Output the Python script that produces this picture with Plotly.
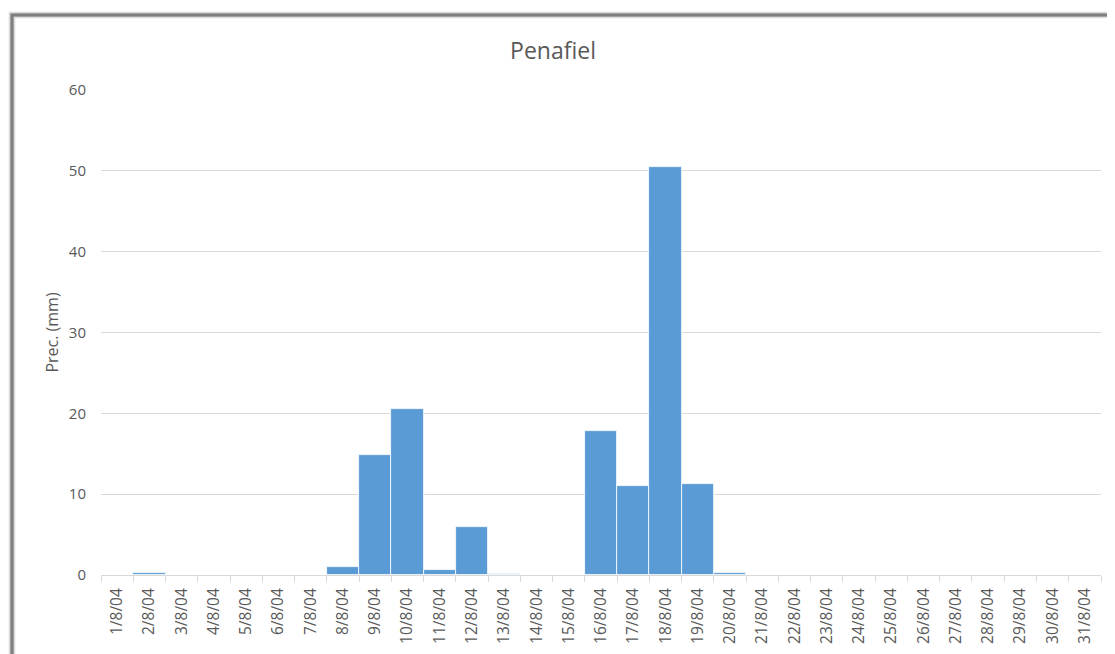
import plotly.graph_objects as go

days = [f"{d}/8/04" for d in range(1, 32)]
precip = [0, 0.25, 0, 0, 0, 0, 0, 1.0, 14.9, 20.5, 0.65, 5.95, 0.1, 0, 0,
          17.8, 11.05, 50.5, 11.2, 0.3, 0, 0, 0, 0, 0, 0, 0, 0, 0, 0, 0]
y_ticks = [0, 10, 20, 30, 40, 50, 60]

W, H = 1115, 654
OFF = 8  # page body margin
L, T = 101 - OFF, 90 - OFF
PW, PH = 1000, 485
R = W - L - PW
B = H - T - PH

def px(x):
    return (x - OFF - L) / PW

def py(y):
    return 1 - (y - OFF - T) / PH

fig = go.Figure()
fig.add_trace(go.Bar(
    x=days, y=precip,
    marker=dict(color="#5B9BD5", line=dict(color="#FFFFFF", width=0.8)),
    width=1.0,
))

shapes = []
for w, c in [(8, "rgba(0,0,0,0.04)"), (6, "rgba(0,0,0,0.07)"), (4.5, "rgba(0,0,0,0.12)")]:
    shapes.append(dict(type="rect", xref="paper", yref="paper",
                       x0=px(12), x1=px(1300), y0=py(15), y1=py(900),
                       line=dict(color=c, width=w), layer="above"))
shapes.append(dict(type="rect", xref="paper", yref="paper",
                   x0=px(12), x1=px(1300), y0=py(15), y1=py(900),
                   line=dict(color="#7F7F7F", width=3), layer="above"))

fig.update_layout(
    width=W, height=H,
    margin=dict(l=L, r=R, t=T, b=B),
    paper_bgcolor="white", plot_bgcolor="white",
    font=dict(family="Open Sans, Lato, sans-serif", color="#595959"),
    title=dict(text="Penafiel", x=px(553), xanchor="center", xref="paper",
               y=1 - (51 - OFF) / H, yanchor="middle",
               font=dict(size=23, color="#595959")),
    showlegend=False,
    bargap=0,
    shapes=shapes,
    xaxis=dict(
        type="category", tickangle=-90, tickfont=dict(size=15.5, color="#595959"),
        showgrid=False, showline=True, linecolor="#D9D9D9", linewidth=1,
        ticks="outside", tickson="boundaries", ticklen=6, tickcolor="#D9D9D9",
        range=[-0.5, 30.5], ticklabelstandoff=6,
    ),
    yaxis=dict(
        range=[0, 60], tickvals=y_ticks, tickfont=dict(size=15, color="#595959"),
        showgrid=True, gridcolor="#D9D9D9", gridwidth=1, zeroline=False,
        ticks="", ticklabelstandoff=14,
        title=dict(text="Prec. (mm)", font=dict(size=16, color="#595959"), standoff=6),
    ),
)

fig.write_html("out.html")
